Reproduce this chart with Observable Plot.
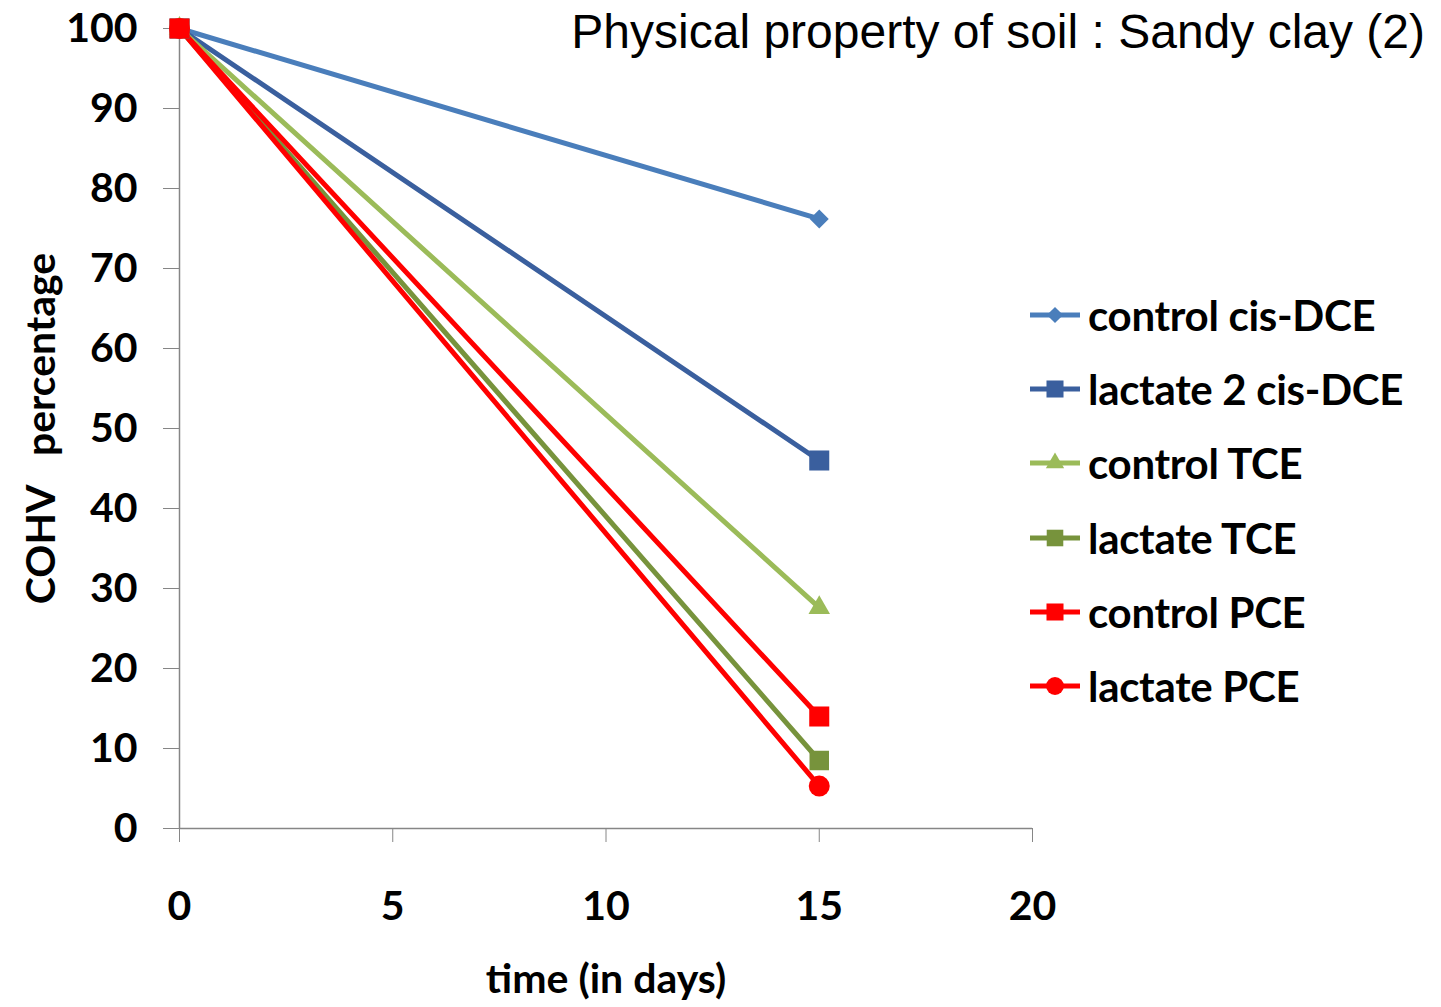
<!DOCTYPE html>
<html>
<head>
<meta charset="utf-8">
<script src="https://cdn.jsdelivr.net/npm/d3@7"></script>
<script src="https://cdn.jsdelivr.net/npm/@observablehq/plot@0.6"></script>
<style>
  html, body { margin: 0; padding: 0; background: #fff; }
  #wrap { position: relative; width: 1441px; height: 1007px; overflow: hidden; }
  #title { position: absolute; right: 16px; top: 4px; font-family: "Liberation Sans", Arial, sans-serif; font-size: 48px; color: #000; white-space: nowrap; }
  #legend { position: absolute; left: 1028px; top: 278px; font-family: Lato, "Open Sans", sans-serif; font-weight: 700; font-size: 42px; color: #000; letter-spacing: -0.3px; }
  .row { display: flex; align-items: center; height: 74.2px; white-space: nowrap; }
  .row svg { margin-right: 6px; }
  svg text { white-space: pre; }
</style>
</head>
<body>
<div id="wrap">
  <div id="chart"></div>
  <div id="title"></div>
  <div id="legend"></div>
</div>
<script>
// ---- data ----
const days = [0, 15];
const seriesNames = ["control cis-DCE", "lactate 2 cis-DCE", "control TCE", "lactate TCE", "control PCE", "lactate PCE"];
const controlCisDCE = [100, 76.2];
const lactate2CisDCE = [100, 46.0];
const controlTCE = [100, 27.6];
const lactateTCE = [100, 8.5];
const controlPCE = [100, 14.0];
const lactatePCE = [100, 5.3];
const xTicks = [0, 5, 10, 15, 20];
const yTicks = [0, 10, 20, 30, 40, 50, 60, 70, 80, 90, 100];
const titleText = "Physical property of soil : Sandy clay (2)";
const xLabel = "time (in days)";
const yLabel = "COHV   percentage";

// ---- styles ----
const colors = ["#4A7EBB", "#3A5F9E", "#9BBB59", "#77933C", "#FF0000", "#FF0000"];
const symbols = ["square", "square", "triangle", "square", "square", "circle"];
const rotations = [45, 0, 0, 0, 0, 0];
const radii = [7.6, 11.3, 8.0, 11.0, 11.3, 10.5];

const allValues = [controlCisDCE, lactate2CisDCE, controlTCE, lactateTCE, controlPCE, lactatePCE];
const data = [];
seriesNames.forEach((s, i) => days.forEach((d, j) => data.push({series: s, idx: i, day: d, value: allValues[i][j]})));

const marks = [
  Plot.ruleY([0], {stroke: "#868686", strokeWidth: 1.5, x1: 0, x2: 20}),
  Plot.ruleX([0], {stroke: "#868686", strokeWidth: 1.5, y1: 0, y2: 100}),
  Plot.axisY({ticks: yTicks, tickSize: 16, tickPadding: 26, stroke: "#868686", fontSize: 41, fontWeight: 700,
    label: yLabel, labelAnchor: "center", labelOffset: 154, labelArrow: false}),
  Plot.axisX({ticks: xTicks, tickSize: 14, tickPadding: 48, stroke: "#868686", fontSize: 41, fontWeight: 700,
    label: xLabel, labelAnchor: "center", labelOffset: 164, labelArrow: false}),
  Plot.line(data, {x: "day", y: "value", z: "series", stroke: "series", strokeWidth: 5})
];
seriesNames.forEach((s, i) => {
  marks.push(Plot.dot(data.filter(d => d.idx === i), {x: "day", y: "value", fill: colors[i], stroke: "none",
    symbol: symbols[i], r: radii[i], rotate: rotations[i]}));
});

const chart = Plot.plot({
  width: 1441,
  height: 1007,
  marginLeft: 179,
  marginRight: 409,
  marginTop: 28,
  marginBottom: 179,
  style: {fontFamily: "Lato, 'Open Sans', sans-serif", color: "#000", background: "#fff"},
  x: {domain: [0, 20]},
  y: {domain: [0, 100]},
  color: {domain: seriesNames, range: colors},
  marks
});
document.getElementById("chart").appendChild(chart);
document.getElementById("title").textContent = titleText;

// legend
const legend = d3.select("#legend");
const symMap = {square: d3.symbolSquare, triangle: d3.symbolTriangle, circle: d3.symbolCircle};
seriesNames.forEach((s, i) => {
  const row = legend.append("div").attr("class", "row");
  const sv = row.append("svg").attr("width", 54).attr("height", 30);
  sv.append("line").attr("x1", 2).attr("x2", 52).attr("y1", 15).attr("y2", 15)
    .attr("stroke", colors[i]).attr("stroke-width", 5);
  const r = radii[i] * 0.85;
  sv.append("path").attr("d", d3.symbol(symMap[symbols[i]], Math.PI * r * r)())
    .attr("transform", `translate(27,15) rotate(${rotations[i]})`).attr("fill", colors[i]);
  row.append("span").text(s);
});
</script>
</body>
</html>
